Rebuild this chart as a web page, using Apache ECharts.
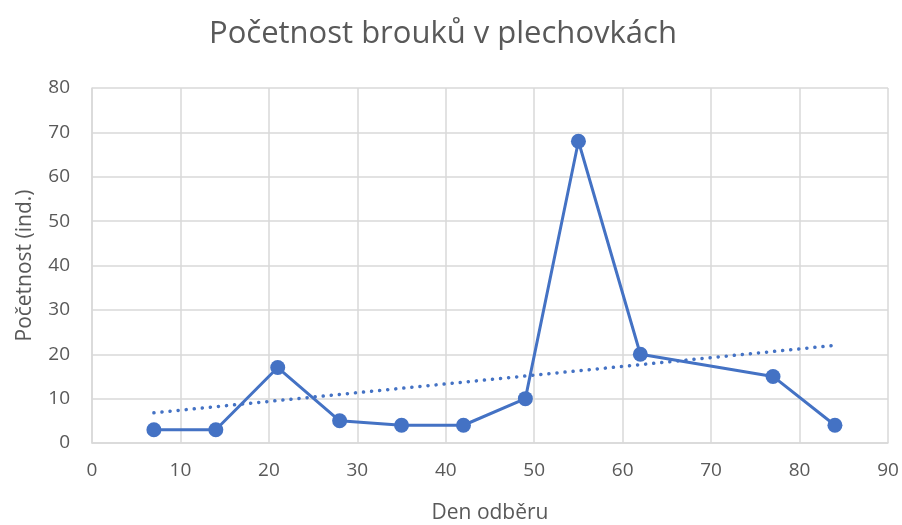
<!DOCTYPE html>
<html><head><meta charset="utf-8">
<script src="https://cdn.jsdelivr.net/npm/echarts@6/dist/echarts.min.js"></script>
<style>html,body{margin:0;padding:0;background:#fff}#c{width:902px;height:525px}</style>
</head><body><div id="c"></div>
<script>
const days = [7, 14, 21, 28, 35, 42, 49, 55, 62, 77, 84];
const counts = [3, 3, 17, 5, 4, 4, 10, 68, 20, 15, 4];
const trendDays = [7, 84];
const trendCounts = [6.8, 22.0];
const titleText = 'Početnost brouků v plechovkách';
const xName = 'Den odběru';
const yName = 'Početnost (ind.)';

const font = '"Open Sans", "Noto Sans", sans-serif';
const chart = echarts.init(document.getElementById('c'), null, {renderer: 'canvas'});
chart.setOption({
  animation: false,
  title: {text: titleText, left: 204, top: 14,
    textStyle: {fontFamily: font, fontSize: 31, fontWeight: 'normal', color: '#595959'}},
  grid: {left: 92, right: 14, top: 88, bottom: 82, containLabel: false, outerBoundsMode: 'none'},
  xAxis: {type: 'value', min: 0, max: 90, interval: 10,
    name: xName, nameLocation: 'middle', nameGap: 60,
    nameTextStyle: {fontFamily: font, fontSize: 21, color: '#595959'},
    axisLine: {show: true, lineStyle: {color: '#d9d9d9', width: 1.5}},
    axisTick: {show: false},
    axisLabel: {fontFamily: font, fontSize: 19, color: '#595959', margin: 18},
    splitLine: {show: true, lineStyle: {color: '#d9d9d9', width: 1.5}}},
  yAxis: {type: 'value', min: 0, max: 80, interval: 10,
    name: yName, nameLocation: 'middle', nameGap: 56,
    nameTextStyle: {fontFamily: font, fontSize: 21, color: '#595959'},
    axisLine: {show: true, lineStyle: {color: '#d9d9d9', width: 1.5}},
    axisTick: {show: false},
    axisLabel: {fontFamily: font, fontSize: 19, color: '#595959', margin: 22},
    splitLine: {show: true, lineStyle: {color: '#d9d9d9', width: 1.5}}},
  series: [
    {type: 'line', data: trendDays.map((d, i) => [d, trendCounts[i]]),
      symbol: 'none', lineStyle: {color: '#4472C4', width: 3.5, type: [0.1, 8], cap: 'round'}, z: 1},
    {type: 'line', data: days.map((d, i) => [d, counts[i]]),
      symbol: 'circle', symbolSize: 15,
      itemStyle: {color: '#4472C4'},
      lineStyle: {color: '#4472C4', width: 3}, z: 2}
  ]
});
</script></body></html>
